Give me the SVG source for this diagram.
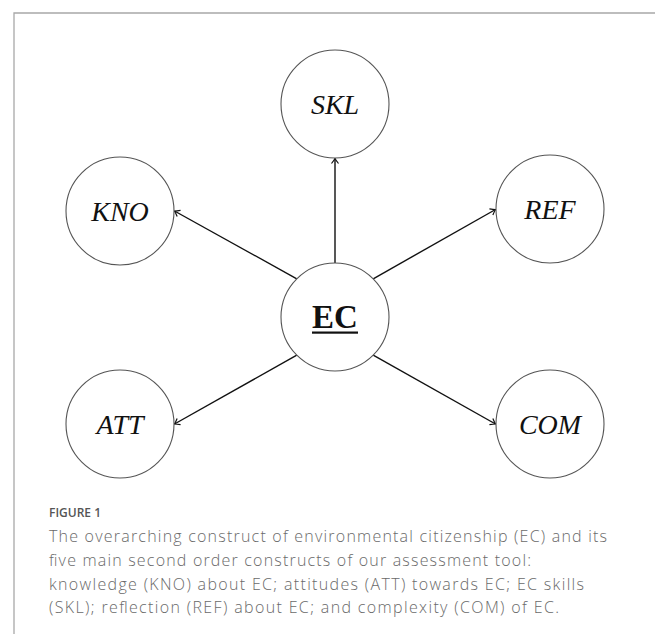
<svg xmlns="http://www.w3.org/2000/svg" width="655" height="634" viewBox="0 0 655 634">
<defs>
<style>
.node circle{fill:#fff;stroke:#555;stroke-width:1.1}
.lbl{font-family:"Liberation Serif","DejaVu Serif",serif;font-style:italic;font-size:28px;fill:#111;text-anchor:middle}
.ec{font-family:"Liberation Serif","DejaVu Serif",serif;font-weight:bold;font-size:33px;fill:#111;text-anchor:middle}
.edge{stroke:#111;stroke-width:1.4;fill:none;marker-end:url(#arr)}
.cap{font-family:"Open Sans","Liberation Sans",sans-serif;font-size:16px;fill:#6a6a6a;font-weight:300}
.fig{font-family:"Open Sans","Liberation Sans",sans-serif;font-size:12px;fill:#555;font-weight:600}
</style>
<marker id="arr" markerWidth="10" markerHeight="10" viewBox="-6 -5 8 10" refX="0" refY="0" orient="auto" markerUnits="userSpaceOnUse">
<path d="M-5,-3.5 Q-1.5,-0.8 0,0 Q-1.5,0.8 -5,3.5" fill="none" stroke="#111" stroke-width="1.2"/>
</marker>
</defs>
<rect width="655" height="634" fill="#fff"/>
<path d="M14,634 V13 H655" fill="none" stroke="#a8a8a8" stroke-width="1.3"/>
<g id="connectors">
<line class="edge" x1="335" y1="263" x2="335" y2="158.5"/>
<line class="edge" x1="296.8" y1="278.8" x2="174.5" y2="211"/>
<line class="edge" x1="373.2" y1="278.8" x2="495.5" y2="209.5"/>
<line class="edge" x1="296.8" y1="355.2" x2="174.5" y2="424"/>
<line class="edge" x1="373.2" y1="355.2" x2="495.5" y2="424"/>
</g>
<g id="SKL" class="node"><circle cx="335" cy="104" r="54"/><text class="lbl" x="335" y="114">SKL</text></g>
<g id="KNO" class="node"><circle cx="120" cy="211" r="54"/><text class="lbl" x="120" y="221">KNO</text></g>
<g id="REF" class="node"><circle cx="550" cy="209" r="54"/><text class="lbl" x="550" y="219">REF</text></g>
<g id="ATT" class="node"><circle cx="120" cy="424" r="54"/><text class="lbl" x="120" y="434">ATT</text></g>
<g id="COM" class="node"><circle cx="550" cy="424" r="54"/><text class="lbl" x="550" y="434">COM</text></g>
<g id="EC" class="node"><circle cx="335" cy="317" r="54"/><text class="ec" x="335" y="328">EC</text><rect x="312" y="331.5" width="46" height="2.2" fill="#111"/></g>
<g id="caption">
<text class="fig" x="49" y="517">FIGURE 1</text>
<text class="cap" x="49" y="542" textLength="558">The overarching construct of environmental citizenship (EC) and its</text>
<text class="cap" x="49" y="566" textLength="482">five main second order constructs of our assessment tool:</text>
<text class="cap" x="49" y="590" textLength="535">knowledge (KNO) about EC; attitudes (ATT) towards EC; EC skills</text>
<text class="cap" x="49" y="613" textLength="510">(SKL); reflection (REF) about EC; and complexity (COM) of EC.</text>
</g>
</svg>
